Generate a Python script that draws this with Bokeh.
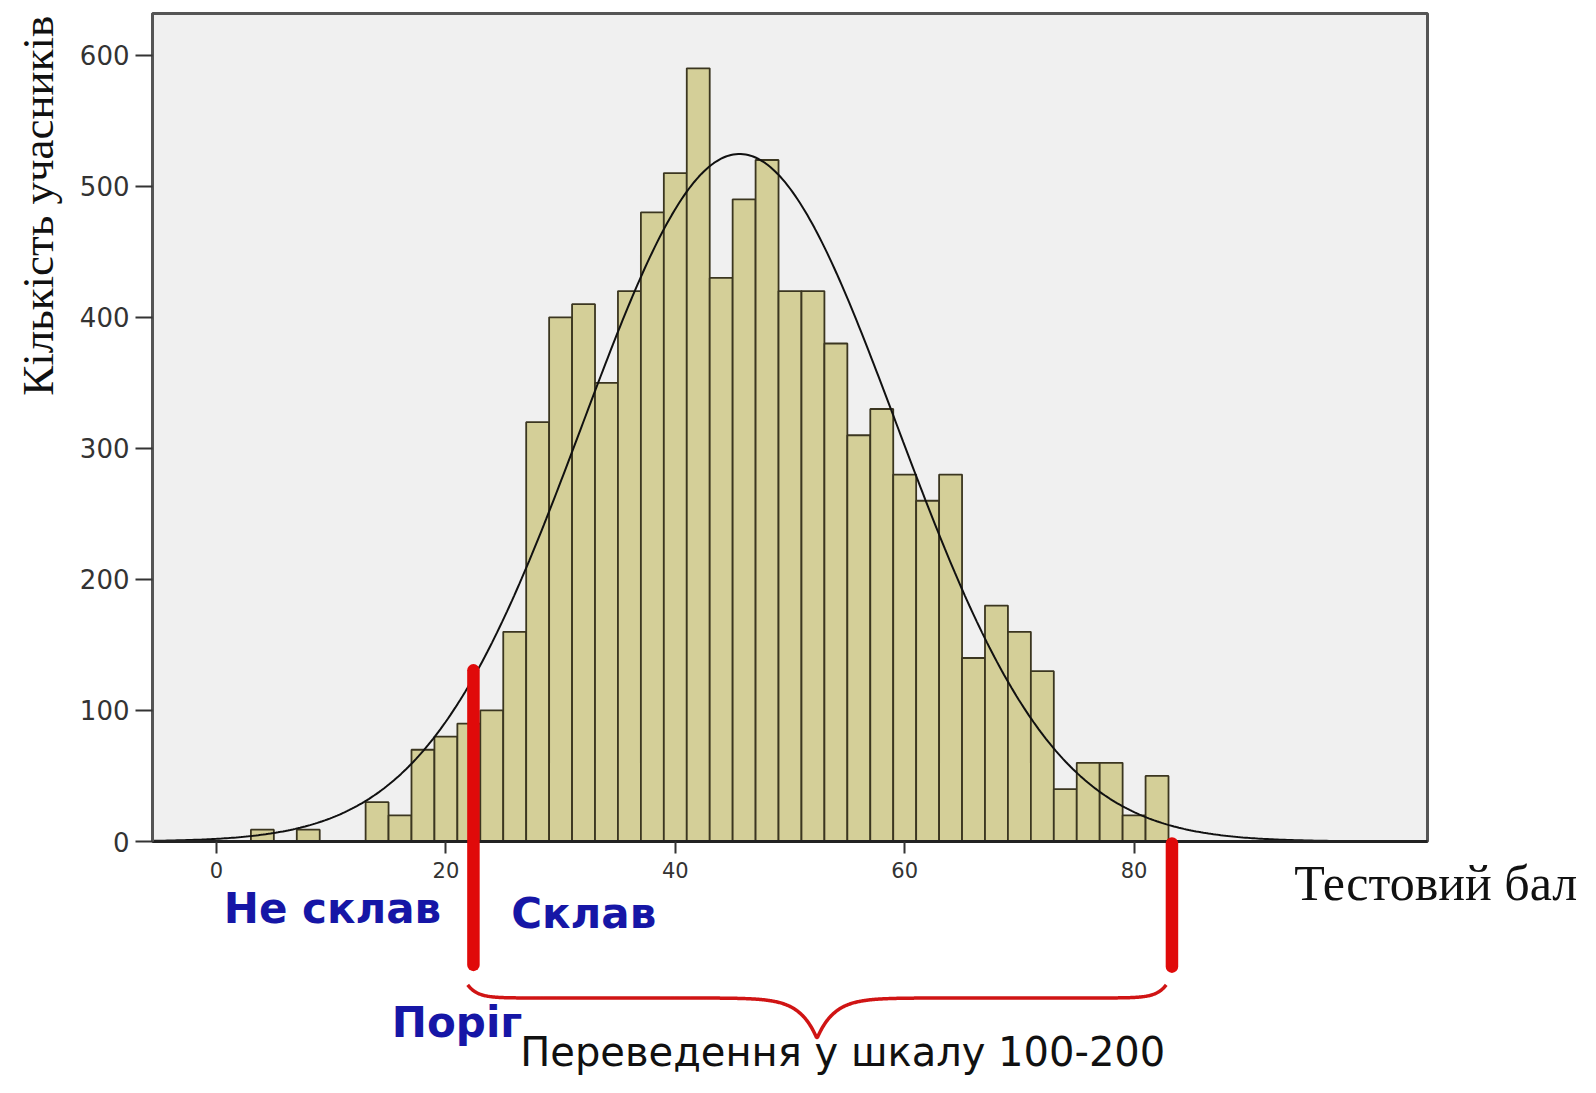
import numpy as np
from bokeh.plotting import figure
from bokeh.models import FixedTicker, Range1d
from bokeh.core.properties import value
from bokeh.embed import file_html
from bokeh.resources import INLINE

# ---------------- data ----------------
bin_centers = [4, 8, 14, 16, 18, 20, 22, 24, 26, 28, 30, 32, 34, 36, 38, 40, 42, 44, 46,
               48, 50, 52, 54, 56, 58, 60, 62, 64, 66, 68, 70, 72, 74, 76, 78, 80, 82]
counts = [9, 9, 30, 20, 70, 80, 90, 100, 160, 320, 400, 410, 350, 420, 480, 510, 590, 430, 490,
          520, 420, 420, 380, 310, 330, 280, 260, 280, 140, 180, 160, 130, 40, 60, 60, 20, 50]
bin_width = 2
fit_mean = 45.6
fit_sd = 13.7
x_ticks = [0, 20, 40, 60, 80]
y_ticks = [0, 100, 200, 300, 400, 500, 600]
threshold = 22.4      # "Поріг"
max_score = 83.3      # right end of the scale conversion

y_title = "Кількість учасників"
x_title = "Тестовий бал"
label_fail = "Не склав"
label_pass = "Склав"
label_threshold = "Поріг"
label_scale = "Переведення у шкалу 100-200"

# ---------------- figure ----------------
W, H = 1580, 1077
p = figure(width=W, height=H, output_backend="svg", toolbar_location=None,
           x_range=Range1d(-5.58, 105.58), y_range=Range1d(0, 631.8),
           min_border_left=152, min_border_right=153, min_border_top=13, min_border_bottom=236)
p.background_fill_color = "#f0f0f0"
p.border_fill_color = "white"
p.outline_line_color = "#555555"
p.outline_line_width = 3
p.grid.visible = False

# bars
p.vbar(x=bin_centers, width=bin_width, top=counts, bottom=0,
       fill_color="#d4cf98", line_color="#3b3620", line_width=1.8)

# fitted normal curve
n_total = sum(counts)
xs = np.linspace(-5.58, 101.5, 500)
ys = n_total * bin_width * np.exp(-0.5 * ((xs - fit_mean) / fit_sd) ** 2) / (fit_sd * np.sqrt(2 * np.pi))
p.line(xs, ys, line_color="#111111", line_width=2)

# axes
for ax in (p.xaxis, p.yaxis):
    ax.axis_line_width = 3
    ax.major_tick_line_width = 2
    ax.major_tick_in = 0
    ax.minor_tick_line_color = None
    ax.major_label_text_font = "DejaVu Sans"
    ax.major_label_text_color = "#333333"
p.yaxis.axis_line_color = "#555555"
p.yaxis.major_tick_line_color = "#333333"
p.xaxis.axis_line_color = "#222222"
p.xaxis.major_tick_line_color = "#333333"
p.yaxis.ticker = FixedTicker(ticks=y_ticks)
p.xaxis.ticker = FixedTicker(ticks=x_ticks)
p.yaxis.major_tick_out = 17
p.yaxis.major_label_standoff = 6
p.yaxis.major_label_text_font_size = "26px"
p.xaxis.major_tick_out = 12
p.xaxis.major_label_standoff = 8
p.xaxis.major_label_text_font_size = "21px"

# ---------------- annotations (outside the frame, drawn on overlay level) ----------------
red = "#e00a0a"
p.segment(x0=[threshold, max_score], y0=[130.6, -1.5], x1=[threshold, max_score], y1=[-94.2, -95.5],
          line_color=red, line_width=12.5, line_cap="round", level="overlay")

# curly brace from threshold to max_score
bx0, bx1 = threshold - 0.5, max_score - 0.5
bxm = (bx0 + bx1) / 2
bx = np.linspace(bx0, bx1, 800)
by = (-119.4 + 10.0 * (np.exp(-(bx - bx0) / 0.87) + np.exp(-(bx1 - bx) / 0.87))
      - 31.0 * np.exp(-np.abs(bx - bxm) / 1.5))
p.line(bx, by, line_color="#d01414", line_width=3.5, level="overlay")

blue = "#1616a6"
p.text(x=[10.11, 32.02, 20.97], y=[-51.4, -55.2, -138.4],
       text=[label_fail, label_pass, label_threshold],
       text_font=value("DejaVu Sans"), text_font_style="bold", text_font_size=value("42px"),
       text_color=blue, text_align="center", text_baseline="alphabetic", level="overlay")
p.text(x=[54.6], y=[-161.0], text=[label_scale],
       text_font=value("DejaVu Sans"), text_font_size=value("40px"),
       text_color="#111111", text_align="center", text_baseline="alphabetic", level="overlay")
p.text(x=[106.3], y=[-31.9], text=[x_title],
       text_font=value("Liberation Serif"), text_font_size=value("50px"),
       text_color="#111111", text_align="center", text_baseline="alphabetic", level="overlay")
p.text(x=[-15.58], y=[485.1], text=[y_title], angle=np.pi / 2,
       text_font=value("Liberation Serif"), text_font_size=value("45px"),
       text_color="#111111", text_align="center", text_baseline="alphabetic", level="overlay")

open("out.html", "w").write(file_html(p, INLINE))
